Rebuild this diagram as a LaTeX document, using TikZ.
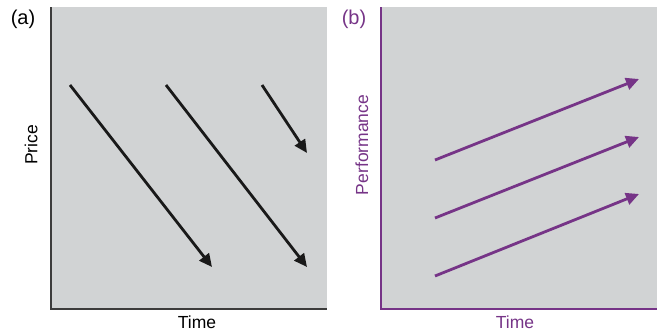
\documentclass[tikz,border=0pt]{standalone}
\usepackage{fontspec}
\setmainfont{Liberation Sans}
\usetikzlibrary{arrows.meta}

\definecolor{panelgray}{RGB}{209,211,212}
\definecolor{perfpurple}{RGB}{118,52,135}
\definecolor{axisgray}{RGB}{60,60,60}

\tikzset{
  trend/.style={line width=2.8pt, -{Triangle[length=13pt, width=12pt]}},
  axislabel/.style={font=\fontsize{17.5}{20}\selectfont},
  paneltag/.style={font=\fontsize{20}{22}\selectfont},
}

\begin{document}
\begin{tikzpicture}[x=1pt, y=-1pt]
        \useasboundingbox (0,0) rectangle (657,335);

        % (a) price falls over time
        \fill[panelgray] (51,7) rectangle (327,309);
        \draw[axisgray, line width=1.5pt] (51,7) -- (51,309) -- (327,309);
        \node[paneltag] (tagA) at (23,19) {(a)};
        \node[axislabel, rotate=90] (price) at (31,145) {Price};
        \node[axislabel] (timeA) at (197,322) {Time};

        \coordinate (a1s) at (70,85);  \coordinate (a1e) at (212,267);
        \coordinate (a2s) at (166,85); \coordinate (a2e) at (307,267);
        \coordinate (a3s) at (262,85); \coordinate (a3e) at (307,153);
        \foreach \k in {1,2,3}
          \draw[trend, black!90] (a\k s) -- (a\k e);

        % (b) performance rises over time
        \fill[panelgray] (381,7) rectangle (657,309);
        \draw[perfpurple, line width=1.5pt] (381,7) -- (381,309) -- (657,309);
        \node[paneltag, text=perfpurple] (tagB) at (354,19) {(b)};
        \node[axislabel, text=perfpurple, rotate=90] (perf) at (362,145) {Performance};
        \node[axislabel, text=perfpurple] (timeB) at (515,322) {Time};

        \coordinate (b1s) at (435,160); \coordinate (b1e) at (639,79);
        \coordinate (b2s) at (435,218); \coordinate (b2e) at (639,137);
        \coordinate (b3s) at (435,276); \coordinate (b3e) at (639,194);
        \foreach \k in {1,2,3}
          \draw[trend, perfpurple] (b\k s) -- (b\k e);
\end{tikzpicture}
\end{document}
